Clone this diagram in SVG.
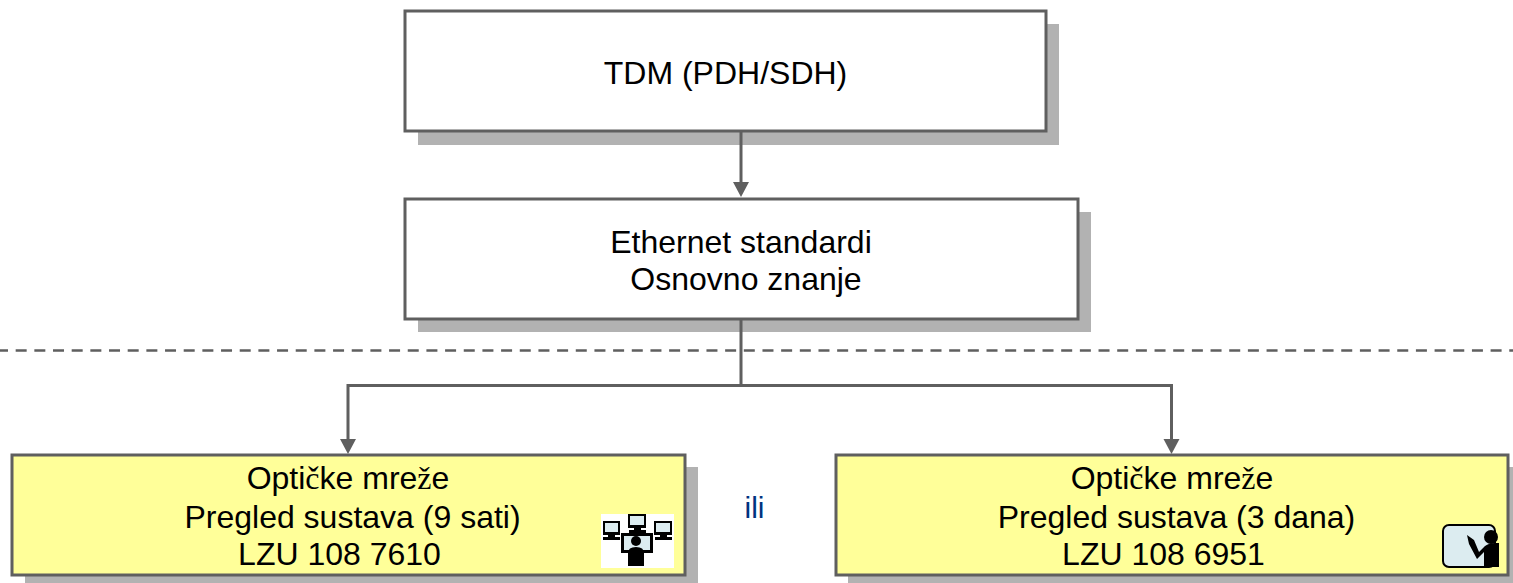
<svg xmlns="http://www.w3.org/2000/svg" width="1513" height="583" viewBox="0 0 1513 583">
<style>
.s{fill:#b2b2b2}
.b{stroke:#5f5f5f;stroke-width:3}
.w{fill:#fff}
.y{fill:#ffff99}
.t{font-family:"Liberation Sans",Arial,sans-serif;font-size:32px;fill:#000;text-anchor:middle}
.r{font-family:"Liberation Serif","Times New Roman",serif}
.c{fill:none;stroke:#5f5f5f;stroke-width:3}
.h{fill:#5f5f5f}
.k{fill:#000}
.p{fill:#dcecf0}
</style>
<rect width="1513" height="583" fill="#fff"/>
<g id="node-tdm">
<rect class="s" x="418" y="24" width="641" height="121"/>
<rect class="w b" x="405" y="11" width="641" height="120"/>
<text class="t" x="725.500" y="84">TDM (PDH/SDH)</text>
</g>
<g id="node-ethernet">
<rect class="s" x="418" y="212" width="673" height="120"/>
<rect class="w b" x="405" y="199" width="673" height="120"/>
<text class="t" x="741" y="253">Ethernet standardi</text>
<text class="t" x="746" y="290">Osnovno znanje</text>
</g>
<g id="node-optical-left">
<rect class="s" x="25" y="467" width="673" height="116"/>
<rect class="y b" x="12" y="455" width="673" height="120"/>
<text class="t" x="348" y="489">Opti<tspan class="r">č</tspan>ke mre<tspan class="r">ž</tspan>e</text>
<text class="t" x="352.500" y="528">Pregled sustava (9 sati)</text>
<text class="t" x="339.500" y="565">LZU 108 7610</text>
<g id="icon-computers">
<rect class="w" x="601" y="514" width="73" height="54"/>
<path class="k" d="M603 521h17v14h-17zM628 514h18v14h-18zM654 521h18v14h-18zM621 533h32v20h-32z"/>
<path class="p" d="M605 523h13v9h-13zM630 516h14v9h-14zM656 523h14v9h-14zM624 536h26v14h-26z"/>
<path class="k" d="M608 535h7v3h-7zM634 528h7v3h-7zM660 535h7v3h-7zM603 537h17v3h-17zM629 530h17v3h-17zM655 537h17v3h-17z"/>
<circle class="k" cx="636" cy="541" r="5"/>
<path class="k" d="M628 566v-13q0-6 8-6t8 6v13z"/>
</g>
</g>
<g id="node-optical-right">
<rect class="s" x="848" y="467" width="673" height="116"/>
<rect class="y b" x="836" y="455" width="672" height="120"/>
<text class="t" x="1172" y="489">Opti<tspan class="r">č</tspan>ke mre<tspan class="r">ž</tspan>e</text>
<text class="t" x="1176.500" y="528">Pregled sustava (3 dana)</text>
<text class="t" x="1163.500" y="565">LZU 108 6951</text>
<g id="icon-teacher">
<rect x="1443" y="525" width="52" height="42" rx="6" class="p" stroke="#000" stroke-width="2"/>
<circle class="k" cx="1491" cy="537" r="7"/>
<path class="k" d="M1484 567v-15l-7 7-8-15-2-9 7 5 5 12 6-6q4-3 10-3h4v24z"/>
</g>
</g>
<text id="label-ili" x="754.500" y="518" style="font-family:'Liberation Sans',Arial,sans-serif;font-size:30px;fill:#003380;text-anchor:middle">ili</text>
<g id="connectors">
<path class="c" d="M741 131V184"/>
<path class="h" d="M733 182H749L741 197Z"/>
<path class="c" d="M741 319V385.500M348 441V385.500H1171.500V441"/>
<path class="h" d="M340 439H356L348 454Z"/>
<path class="h" d="M1163.500 439H1179.500L1171.500 454Z"/>
<path d="M0 350.500H1513" fill="none" stroke="#5f5f5f" stroke-width="2.500" stroke-dasharray="11 7.670" stroke-dashoffset="3"/>
</g>
</svg>
